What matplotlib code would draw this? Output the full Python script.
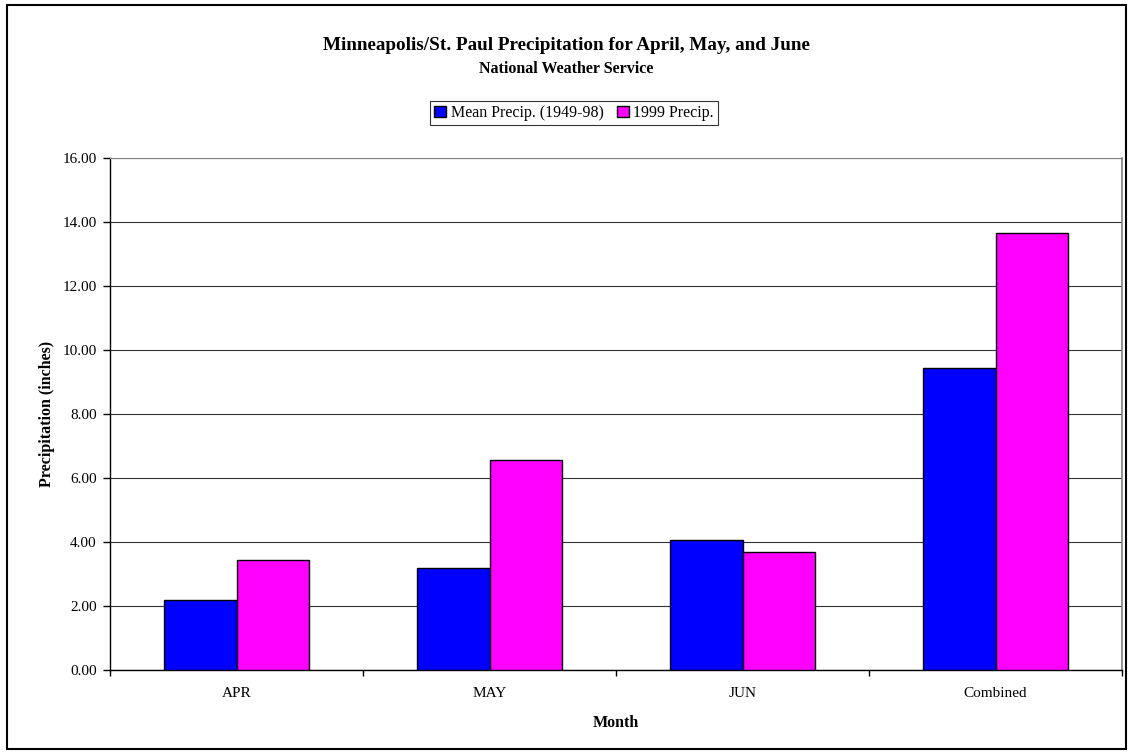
import matplotlib

matplotlib.use("Agg")

import numpy as np
from matplotlib import pyplot as plt
from matplotlib.patches import Rectangle

# Precipitation in inches, Minneapolis/St. Paul
months = ["APR", "MAY", "JUN", "Combined"]
mean_precip = [2.18, 3.20, 4.05, 9.45]
precip_1999 = [3.43, 6.57, 3.68, 13.67]
y_ticks = [0, 2, 4, 6, 8, 10, 12, 14, 16]

plt.rcParams["font.family"] = ["Liberation Serif", "DejaVu Serif"]

W, H = 1131, 755
fig = plt.figure(figsize=(W / 100, H / 100), dpi=100)


def px(x0, y0):
    """pixel position (from top-left) -> figure fraction"""
    return x0 / W, 1 - y0 / H


ax_left, ax_top = px(110, 158)
ax_right, ax_bottom = px(1122, 670)
ax = fig.add_axes([ax_left, ax_bottom, ax_right - ax_left, ax_top - ax_bottom])

x = np.arange(len(months))
width = 1 / 3.5
ax.bar(x - width / 2, mean_precip, width, color="#0000ff", edgecolor="black",
       linewidth=1.0, label="Mean Precip. (1949-98)", zorder=3)
ax.bar(x + width / 2, precip_1999, width, color="#ff00ff", edgecolor="black",
       linewidth=1.0, label="1999 Precip.", zorder=3)

ax.set_xlim(-0.5, len(months) - 0.5)
ax.set_ylim(0, 16)
ax.set_yticks(y_ticks)
ax.set_yticklabels([f"{v:.2f}" for v in y_ticks], fontsize=11)
ax.yaxis.grid(True, color="#333333", linewidth=0.8, zorder=0)

# category labels centred, tick marks on the boundaries
ax.set_xticks(x)
ax.set_xticklabels(months, fontsize=11)
ax.tick_params(axis="x", length=0, pad=12)
ax.set_xticks(np.arange(len(months) + 1) - 0.5, minor=True)
ax.tick_params(axis="x", which="minor", length=4, direction="out", width=1.0)
ax.tick_params(axis="y", length=5, direction="out", width=1.0, pad=4.5)

ax.spines["top"].set_color("#808080")
ax.spines["right"].set_color("#808080")
ax.spines["top"].set_linewidth(0.8)
ax.spines["right"].set_linewidth(1.2)
for side in ("left", "bottom"):
    ax.spines[side].set_linewidth(1.0)

fig.text(*px(47, 414), "Precipitation (inches)", rotation=90, ha="center",
         va="center", fontsize=11.5, fontweight="bold")
fig.text(*px(616, 723), "Month", ha="center", va="center",
         fontsize=11.5, fontweight="bold")

fig.text(*px(566, 46), "Minneapolis/St. Paul Precipitation for April, May, and June",
         ha="center", va="center", fontsize=13.8, fontweight="bold")
fig.text(*px(566, 69), "National Weather Service",
         ha="center", va="center", fontsize=11.5, fontweight="bold")

leg = fig.legend(loc="center", bbox_to_anchor=px(574, 113), ncol=2, fontsize=11.5,
                 frameon=True, fancybox=False, edgecolor="black",
                 handlelength=0.75, handleheight=0.75, handletextpad=0.3,
                 columnspacing=0.8, borderpad=0.25, borderaxespad=0)
leg.get_frame().set_linewidth(0.8)

# outer chart border
bx0, by1 = px(7, 5)
bx1, by0 = px(1126, 749)
fig.patches.append(Rectangle((bx0, by0), bx1 - bx0, by1 - by0, transform=fig.transFigure,
                             fill=False, edgecolor="black", linewidth=1.5))

fig.savefig("out.png", dpi=100)
